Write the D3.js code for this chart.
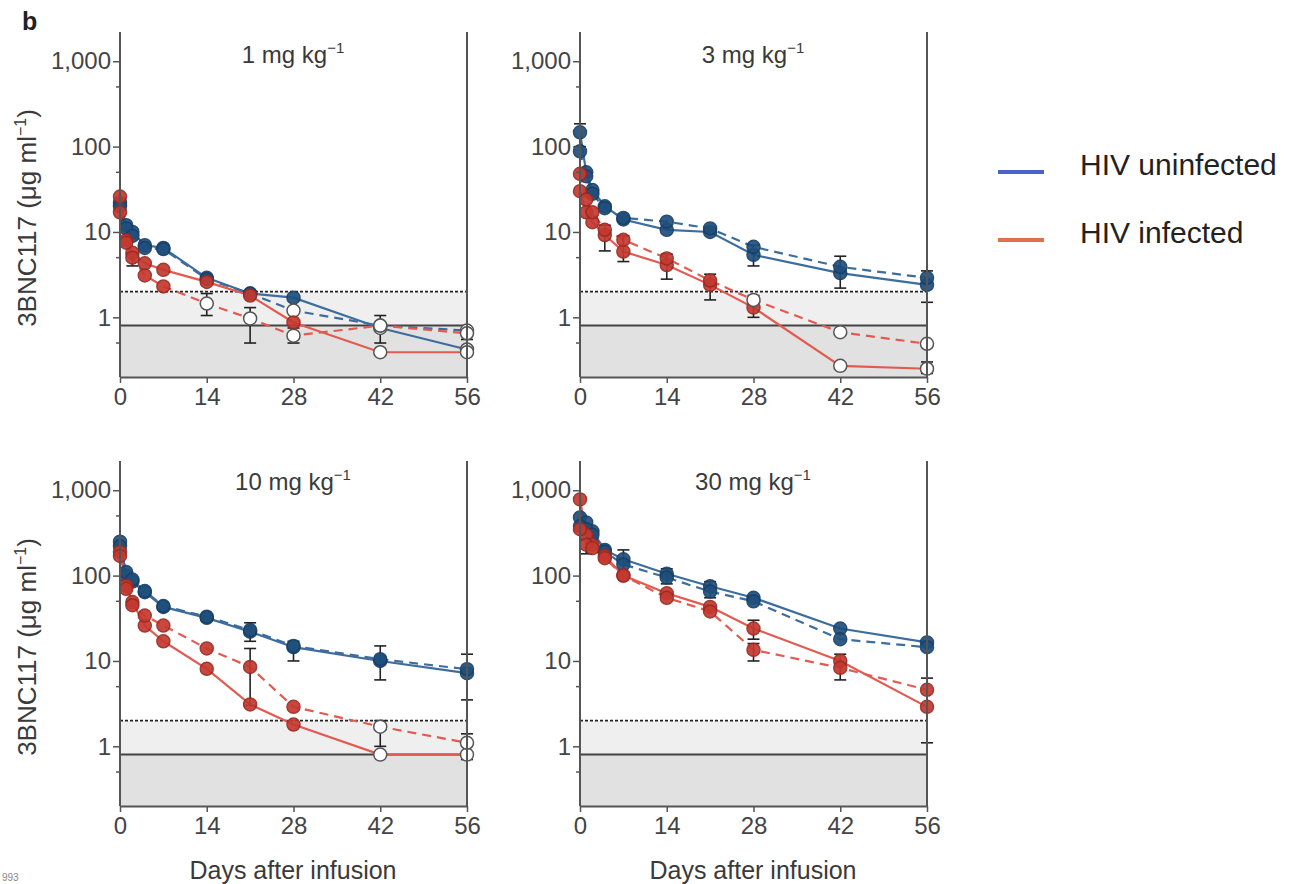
<!DOCTYPE html>
<html><head><meta charset="utf-8">
<script src="https://cdn.jsdelivr.net/npm/d3@7"></script>
<style>body{margin:0;background:#fff} svg{display:block} text{font-family:"Liberation Sans",Arial,Helvetica,sans-serif}</style>
</head><body><svg id="c" width="1299" height="884"></svg>
<script>
// ---------- data ----------
const days = [0, 1, 2, 4, 7, 14, 21, 28, 42, 56];
const dayTicks = [0, 14, 28, 42, 56];
const yTicks = [1, 10, 100, 1000];
const yMinorTicks = [0.5, 5, 50, 500];
const doses = ["1", "3", "10", "30"];
const lloqDashed = 2;
const lloqSolid = 0.8;
const legendLabels = ["HIV uninfected", "HIV infected"];

// series order: uninfected solid, uninfected dashed, infected solid, infected dashed
const uninfSolid1 = [22, 12, 10, 7, 6.5, 2.9, 1.9, 1.7, 0.75, 0.42];
const uninfDashed1 = [20, 11, 9, 6.5, 6.3, 2.8, 1.9, 1.2, 0.8, 0.7];
const infSolid1 = [26, 8, 5.7, 4.3, 3.6, 2.6, 1.8, 0.87, 0.39, 0.39];
const infDashed1 = [17, 7.5, 5, 3.1, 2.3, 1.45, 0.97, 0.61, 0.8, 0.65];

const uninfSolid2 = [147, 50, 31, 20, 14, 10.6, 10, 5.4, 3.3, 2.4];
const uninfDashed2 = [88, 45, 28, 19, 14.6, 13.2, 11, 6.7, 3.9, 2.9];
const infSolid2 = [30, 17, 13, 9.2, 5.9, 4.1, 2.4, 1.3, 0.27, 0.25];
const infDashed2 = [48, 24, 17, 10.6, 8.1, 4.9, 2.7, 1.6, 0.67, 0.49];

const uninfSolid3 = [250, 100, 85, 64, 43, 32, 22, 14.5, 10, 7.2];
const uninfDashed3 = [220, 110, 90, 66, 44, 33, 23, 15, 10.5, 8];
const infSolid3 = [190, 76, 49, 26, 17, 8.1, 3.1, 1.8, 0.8, 0.8];
const infDashed3 = [170, 70, 45, 34, 26, 14, 8.5, 2.9, 1.7, 1.1];

const uninfSolid4 = [480, 420, 330, 200, 155, 105, 75, 55, 24, 16.5];
const uninfDashed4 = [380, 350, 300, 190, 135, 95, 65, 50, 18, 14.5];
const infSolid4 = [780, 300, 230, 170, 100, 62, 43, 24, 10, 2.9];
const infDashed4 = [350, 230, 210, 160, 100, 55, 38, 13.5, 8.3, 4.6];

// day from which points are below quantification (open symbols); null = none
const openFrom1 = [42, 28, 42, 14];
const openFrom2 = [null, null, 42, 28];
const openFrom3 = [null, null, 42, 42];
const openFrom4 = [null, null, null, null];

// error bars: [day, low, high]
const errBars1 = [[2, 4, 5.7], [14, 1.05, 1.9], [21, 0.5, 1.3], [28, 0.5, 0.75], [42, 0.5, 1.05], [56, 0.55, 0.75]];
const errBars2 = [[0, 100, 185], [4, 6, 12], [7, 4.5, 9], [14, 2.8, 5.5], [21, 1.6, 3.2], [28, 4, 7], [28, 1, 1.8], [42, 2.2, 5.2], [56, 1.5, 3.5], [56, 0.22, 0.3]];
const errBars3 = [[21, 3, 14], [21, 17, 28], [28, 10, 17], [42, 6, 15], [56, 3.5, 12], [42, 1, 2], [56, 0.7, 1.4]];
const errBars4 = [[1, 180, 260], [7, 110, 200], [14, 80, 120], [21, 55, 85], [28, 10, 16], [28, 18, 30], [42, 6, 12], [56, 1.1, 6.3]];

// ---------- build ----------
const panels = [
  {dose: doses[0], series: [uninfSolid1, uninfDashed1, infSolid1, infDashed1], open: openFrom1, err: errBars1},
  {dose: doses[1], series: [uninfSolid2, uninfDashed2, infSolid2, infDashed2], open: openFrom2, err: errBars2},
  {dose: doses[2], series: [uninfSolid3, uninfDashed3, infSolid3, infDashed3], open: openFrom3, err: errBars3},
  {dose: doses[3], series: [uninfSolid4, uninfDashed4, infSolid4, infDashed4], open: openFrom4, err: errBars4}
];

const svg = d3.select("#c");
const lineCol = ["#3d6d9c", "#3d6d9c", "#e25a50", "#e25a50"];
const dotFill = ["#1f4f7d", "#1f4f7d", "#c4392f", "#c4392f"];
const dotStroke = ["#183f66", "#183f66", "#9a2a24", "#9a2a24"];
const dash = [null, "9,6", null, "9,6"];
const axisCol = "#555";
const textCol = "#3a3a3a";

svg.append("text").attr("x", 22).attr("y", 30).attr("font-size", 25).attr("font-weight", "bold").attr("fill", "#222").text("b");

panels.forEach((p, i) => {
  const col = i % 2, row = Math.floor(i / 2);
  const x0 = col === 0 ? 120 : 580, x1 = x0 + 347;
  const yTop = row === 0 ? 32 : 461, yBot = row === 0 ? 377 : 806;
  const x = d3.scaleLinear().domain([0, 56]).range([x0, x1]);
  const y = d3.scaleLog().domain([0.2, 2200]).range([yBot, yTop]);
  const g = svg.append("g");

  // shaded LLOQ regions
  g.append("rect").attr("x", x0).attr("width", x1 - x0).attr("y", y(lloqDashed)).attr("height", y(lloqSolid) - y(lloqDashed)).attr("fill", "#efefef");
  g.append("rect").attr("x", x0).attr("width", x1 - x0).attr("y", y(lloqSolid)).attr("height", yBot - y(lloqSolid)).attr("fill", "#e1e1e1");
  g.append("line").attr("x1", x0).attr("x2", x1).attr("y1", y(lloqDashed)).attr("y2", y(lloqDashed)).attr("stroke", "#222").attr("stroke-width", 1.8).attr("stroke-dasharray", "3,2");
  g.append("line").attr("x1", x0).attr("x2", x1).attr("y1", y(lloqSolid)).attr("y2", y(lloqSolid)).attr("stroke", "#444").attr("stroke-width", 2);

  // lines
  const line = d3.line().x(d => x(d[0])).y(d => y(d[1]));
  p.series.forEach((s, k) => {
    const pts = days.map((d, j) => [d, s[j]]);
    g.append("path").attr("d", line(pts)).attr("fill", "none").attr("stroke", lineCol[k]).attr("stroke-width", 2.2)
      .attr("stroke-dasharray", dash[k]);
  });

  // error bars
  p.err.forEach(e => {
    const cx = x(e[0]);
    const eg = g.append("g").attr("stroke", "#222").attr("stroke-width", 1.6);
    eg.append("line").attr("x1", cx).attr("x2", cx).attr("y1", y(e[1])).attr("y2", y(e[2]));
    eg.append("line").attr("x1", cx - 6).attr("x2", cx + 6).attr("y1", y(e[1])).attr("y2", y(e[1]));
    eg.append("line").attr("x1", cx - 6).attr("x2", cx + 6).attr("y1", y(e[2])).attr("y2", y(e[2]));
  });

  // markers
  p.series.forEach((s, k) => {
    const of = p.open[k];
    days.forEach((d, j) => {
      const isOpen = of !== null && d >= of;
      g.append("circle").attr("cx", x(d)).attr("cy", y(s[j])).attr("r", 6.5)
        .attr("fill", isOpen ? "#fff" : dotFill[k])
        .attr("stroke", isOpen ? "#555" : dotStroke[k]).attr("stroke-width", 1.5)
        .attr("opacity", isOpen ? 1 : 0.92);
    });
  });

  // axes
  const ay = g.append("g").attr("transform", `translate(${x0},0)`)
    .call(d3.axisLeft(y).tickValues(yTicks).tickFormat(d3.format(",")).tickSize(7).tickSizeOuter(0).tickPadding(2));
  ay.select(".domain").attr("d", `M0,${yTop}V${yBot}`);
  g.append("g").selectAll("line").data(yMinorTicks).join("line")
    .attr("x1", x0 - 4).attr("x2", x0).attr("y1", d => y(d)).attr("y2", d => y(d)).attr("stroke", axisCol).attr("stroke-width", 1.5);
  const ax = g.append("g").attr("transform", `translate(0,${yBot})`)
    .call(d3.axisBottom(x).tickValues(dayTicks).tickSize(6).tickSizeOuter(0).tickPadding(5));
  [ay, ax].forEach(a => {
    a.selectAll(".domain").attr("stroke", axisCol).attr("stroke-width", 2);
    a.selectAll(".tick line").attr("stroke", axisCol).attr("stroke-width", 1.5);
    a.selectAll(".tick text").attr("font-size", 24).attr("fill", "#444").attr("font-family", "Liberation Sans, Arial, sans-serif");
  });
  g.append("line").attr("x1", x1).attr("x2", x1).attr("y1", yTop).attr("y2", yBot).attr("stroke", axisCol).attr("stroke-width", 2);

  // panel title
  const t = g.append("text").attr("x", x0 + 173).attr("y", yTop + (row === 0 ? 31 : 29)).attr("text-anchor", "middle")
    .attr("font-size", 24).attr("fill", textCol);
  t.append("tspan").text(p.dose + " mg kg");
  t.append("tspan").attr("dy", -10).attr("font-size", 15).text("\u22121");

  if (col === 0) {
    const yt = svg.append("text").attr("transform", `translate(36,${row === 0 ? 218 : 647}) rotate(-90)`)
      .attr("text-anchor", "middle").attr("font-size", 26).attr("fill", textCol);
    yt.append("tspan").text("3BNC117 (\u03bcg ml");
    yt.append("tspan").attr("dy", -10).attr("font-size", 16).text("\u22121");
    yt.append("tspan").attr("dy", 10).text(")");
  }
  if (row === 1) {
    svg.append("text").attr("x", x0 + 173).attr("y", 879).attr("text-anchor", "middle").attr("font-size", 25).attr("fill", textCol).text("Days after infusion");
  }
});

// legend
const legCols = ["#4a63c6", "#e0714f"];
legendLabels.forEach((lab, i) => {
  const ly = i === 0 ? 172 : 240;
  svg.append("line").attr("x1", 998).attr("x2", 1044).attr("y1", ly).attr("y2", ly).attr("stroke", legCols[i]).attr("stroke-width", 4);
  svg.append("text").attr("x", 1080).attr("y", ly + 3).attr("font-size", 30).attr("fill", "#222").text(lab);
});

svg.append("text").attr("x", 2).attr("y", 881).attr("font-size", 10).attr("fill", "#888").text("993");
</script></body></html>
